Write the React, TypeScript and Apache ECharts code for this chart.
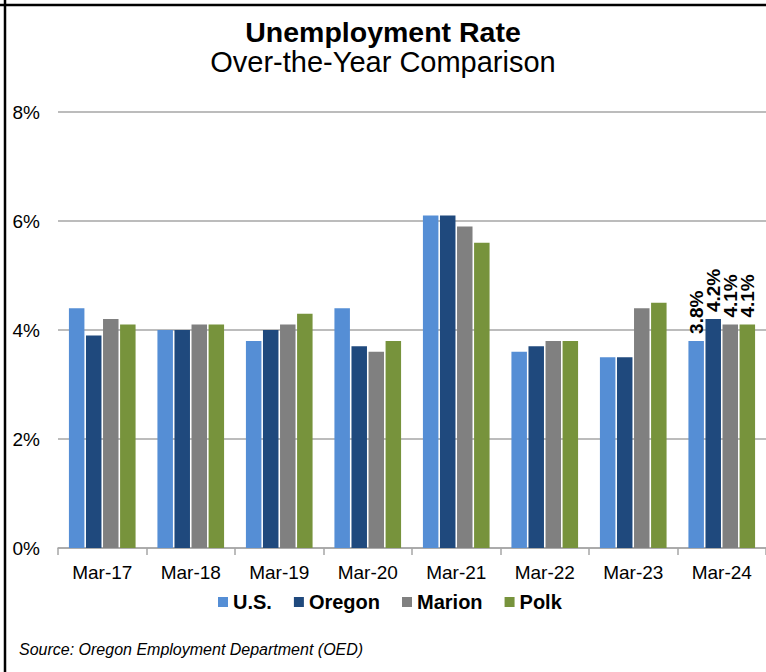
import React, { useEffect, useRef } from "react";
import * as echarts from "echarts";

const categories = ["Mar-17", "Mar-18", "Mar-19", "Mar-20", "Mar-21", "Mar-22", "Mar-23", "Mar-24"];
const usValues = [4.4, 4.0, 3.8, 4.4, 6.1, 3.6, 3.5, 3.8];
const oregonValues = [3.9, 4.0, 4.0, 3.7, 6.1, 3.7, 3.5, 4.2];
const marionValues = [4.2, 4.1, 4.1, 3.6, 5.9, 3.8, 4.4, 4.1];
const polkValues = [4.1, 4.1, 4.3, 3.8, 5.6, 3.8, 4.5, 4.1];
const seriesNames = ["U.S.", "Oregon", "Marion", "Polk"];
const seriesColors = ["#558ED5", "#1F497D", "#808080", "#77933C"];
const yTicks = [0, 2, 4, 6, 8];
const labeledIndex = 7;

const FONT = "'Liberation Sans', Arial, sans-serif";

export default function App() {
  const ref = useRef<HTMLDivElement>(null);

  useEffect(() => {
    if (!ref.current) return;
    const chart = echarts.init(ref.current, undefined, { renderer: "svg" });
    const allValues = [usValues, oregonValues, marionValues, polkValues];

    const series = allValues.map((vals, si) => ({
      name: seriesNames[si],
      type: "bar",
      barWidth: 15.5,
      barGap: "10%",
      itemStyle: { color: seriesColors[si] },
      data: vals.map((v, i) =>
        i === labeledIndex
          ? {
              value: v,
              label: {
                show: true,
                position: "top",
                rotate: 90,
                align: "left",
                verticalAlign: "middle",
                distance: 7,
                formatter: (p: any) => p.value.toFixed(1) + "%",
                fontFamily: FONT,
                fontSize: 19,
                fontWeight: "bold",
                color: "#000",
              },
            }
          : v
      ),
    }));

    chart.setOption({
      animation: false,
      backgroundColor: "#fff",
      textStyle: { fontFamily: FONT },
      title: [
        {
          text: "Unemployment Rate",
          left: "center",
          top: 12,
          textStyle: { fontFamily: FONT, fontSize: 28.5, fontWeight: "bold", color: "#000" },
        },
        {
          text: "Over-the-Year Comparison",
          left: "center",
          top: 42,
          textStyle: { fontFamily: FONT, fontSize: 29, fontWeight: "normal", color: "#000" },
        },
      ],
      legend: {
        data: seriesNames,
        left: 218,
        top: 592,
        icon: "rect",
        itemWidth: 10,
        itemHeight: 10,
        itemGap: 22,
        padding: 0,
        textStyle: { fontFamily: FONT, fontSize: 20, fontWeight: "bold", color: "#000", padding: [0, 0, 0, 0] },
      },
      grid: { left: 58, right: -3, top: 112, bottom: 124, containLabel: false },
      xAxis: {
        type: "category",
        data: categories,
        axisLine: { show: true, lineStyle: { color: "#A6A6A6", width: 1.5 } },
        axisTick: { show: true, length: 7, lineStyle: { color: "#A6A6A6", width: 1.5 } },
        axisLabel: { fontFamily: FONT, fontSize: 19, color: "#000", margin: 15 },
      },
      yAxis: {
        type: "value",
        min: yTicks[0],
        max: yTicks[yTicks.length - 1],
        interval: 2,
        axisLine: { show: false },
        axisTick: { show: false },
        axisLabel: {
          fontFamily: FONT,
          fontSize: 19,
          color: "#000",
          margin: 18,
          formatter: (v: number) => v + "%",
        },
        splitLine: { show: true, lineStyle: { color: "#A6A6A6", width: 1.5 } },
      },
      series,
      graphic: [
        {
          type: "line",
          shape: { x1: 5, y1: 0, x2: 5, y2: 680 },
          style: { stroke: "#000", lineWidth: 2.5 },
          silent: true,
        },
        {
          type: "line",
          shape: { x1: 0, y1: 5, x2: 770, y2: 5 },
          style: { stroke: "#000", lineWidth: 2.5 },
          silent: true,
        },
        {
          type: "text",
          left: 19,
          top: 641,
          style: {
            text: "Source: Oregon Employment Department (OED)",
            fontFamily: FONT,
            fontSize: 16,
            fontStyle: "italic",
            fill: "#000",
          },
        },
      ],
    });

    return () => chart.dispose();
  }, []);

  return (
    <div
      ref={ref}
      style={{ width: 766, height: 672, position: "absolute", left: 0, top: 0 }}
    />
  );
}
